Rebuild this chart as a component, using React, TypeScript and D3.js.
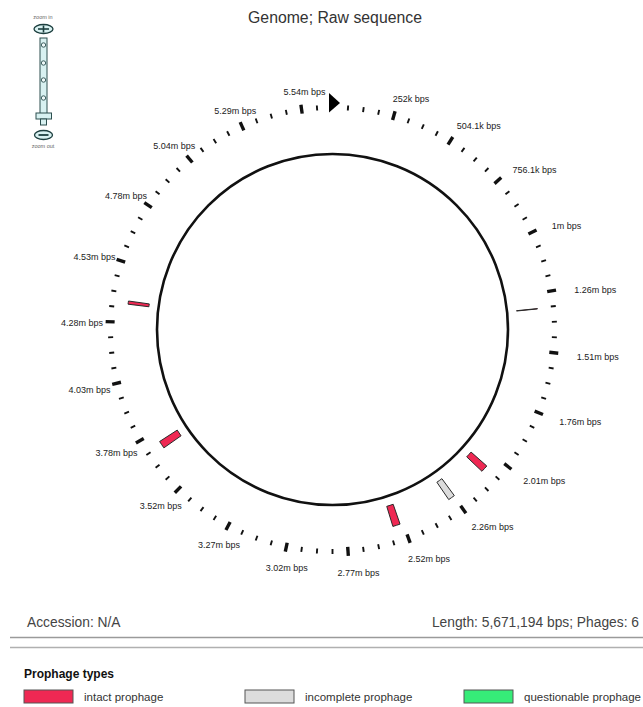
import React from "react";
import * as d3 from "d3";

// ---- data ----
const genomeLength = 5671194;
const minorTickCount = 90; // ticks around the genome (every ~63 kb)
const majorEvery = 4; // every 4th tick is labelled (~252 kb)
const tickLabels = [
  "252k bps", "504.1k bps", "756.1k bps", "1m bps", "1.26m bps", "1.51m bps",
  "1.76m bps", "2.01m bps", "2.26m bps", "2.52m bps", "2.77m bps", "3.02m bps",
  "3.27m bps", "3.52m bps", "3.78m bps", "4.03m bps", "4.28m bps", "4.53m bps",
  "4.78m bps", "5.04m bps", "5.29m bps", "5.54m bps",
];
const prophageStart = [1326000, 2071500, 2264500, 2534000, 3701000, 4364600];
const prophageEnd = [1327500, 2103000, 2294500, 2567000, 3734500, 4378600];
const prophageType = ["intact", "intact", "incomplete", "intact", "intact", "intact"];
const legendKeys = ["intact", "incomplete", "questionable"];
const legendNames = ["intact prophage", "incomplete prophage", "questionable prophage"];
const legendColors = ["#ef2853", "#dcdcdc", "#36ec78"];
const accessionText = "Accession: N/A";
const lengthText = "Length: 5,671,194 bps; Phages: 6";
const titleText = "Genome; Raw sequence";

const W = 643;
const H = 707;
const CX = 332.5;
const CY = 329.5;
const R = 175.5;
const FONT = "'Liberation Sans', Arial, Helvetica, sans-serif";

export default function App() {
  const angle = d3.scaleLinear().domain([0, genomeLength]).range([0, 2 * Math.PI]);
  const color = d3.scaleOrdinal<string, string>().domain(legendKeys).range(legendColors);
  const tickStep = genomeLength / minorTickCount;
  const ticks = d3.range(1, minorTickCount).map((i) => ({
    v: i * tickStep,
    major: i % majorEvery === 0,
    label: i % majorEvery === 0 ? tickLabels[i / majorEvery - 1] : null,
  }));
  const arc = d3.arc<any>();
  const pol = (a: number, r: number): [number, number] => [
    CX + r * Math.sin(a),
    CY - r * Math.cos(a),
  ];

  const labelR = 237;
  const ldx = 8;
  const ldy = 2;

  const tri = [
    [CX - 3.5, CY - 236.5],
    [CX - 3.5, CY - 217],
    [CX + 7.5, CY - 226.5],
  ];

  return (
    <svg
      width={W}
      height={H}
      viewBox={`0 0 ${W} ${H}`}
      style={{ position: "absolute", left: 0, top: 0, background: "#fff" }}
      fontFamily={FONT}
    >
      <rect x={0} y={0} width={W} height={H} fill="#fff" />
      {/* zoom control */}
      <g>
        <text x={43} y={19} fontSize={5.5} fill="#666" textAnchor="middle">zoom in</text>
        <ellipse cx={43.5} cy={29} rx={9.5} ry={4.5} fill="#d8f1f1" stroke="#1d3f3f" strokeWidth={1.3} />
        <line x1={38} x2={49} y1={29} y2={29} stroke="#1d3f3f" strokeWidth={1.6} />
        <line x1={43.5} x2={43.5} y1={25.5} y2={32.5} stroke="#1d3f3f" strokeWidth={1.6} />
        <rect x={40} y={38} width={7} height={77} fill="#d8f1f1" stroke="#2c4f4f" strokeWidth={1} />
        {[45, 63, 80, 98].map((y) => (
          <circle key={y} cx={43.5} cy={y} r={2.2} fill="#eef9f9" stroke="#2c4f4f" strokeWidth={0.9} />
        ))}
        <rect x={36} y={113} width={15.5} height={6} fill="#d8f1f1" stroke="#2c4f4f" strokeWidth={1} />
        <rect x={40.5} y={119} width={6} height={6} fill="#d8f1f1" stroke="#2c4f4f" strokeWidth={1} />
        <ellipse cx={43.5} cy={135} rx={9} ry={4.5} fill="#d8f1f1" stroke="#1d3f3f" strokeWidth={1.3} />
        <line x1={38.5} x2={48.5} y1={135} y2={135} stroke="#1d3f3f" strokeWidth={1.8} />
        <text x={43} y={148} fontSize={5.5} fill="#666" textAnchor="middle">zoom out</text>
      </g>

      {/* title */}
      <text x={335} y={23} fontSize={15.8} fill="#333" textAnchor="middle">
        {titleText}
      </text>

      {/* backbone */}
      <circle cx={CX} cy={CY} r={R} fill="none" stroke="#111" strokeWidth={2.6} />

      {/* prophages */}
      {prophageStart.map((s, i) => (
        <path
          key={i}
          transform={`translate(${CX},${CY})`}
          d={arc({
            innerRadius: 185,
            outerRadius: 206,
            startAngle: angle(s),
            endAngle: angle(prophageEnd[i]),
          }) as string}
          fill={color(prophageType[i])}
          stroke="#2a2a2a"
          strokeWidth={1}
        />
      ))}

      {/* ticks */}
      {ticks.map((t, i) => {
        const a = angle(t.v);
        const [x1, y1] = pol(a, t.major ? 218 : 219.5);
        const [x2, y2] = pol(a, t.major ? 227 : 224.5);
        return (
          <line
            key={i}
            x1={x1}
            y1={y1}
            x2={x2}
            y2={y2}
            stroke="#111"
            strokeWidth={t.major ? 3.4 : 1.9}
          />
        );
      })}

      {/* start marker */}
      <polygon points={tri.map((p) => p.join(",")).join(" ")} fill="#000" />

      {/* tick labels */}
      {ticks
        .filter((t) => t.label)
        .map((t, i) => {
          const a = angle(t.v);
          const s = Math.sin(a);
          const c = Math.cos(a);
          const w = (t.label as string).length * 4.8;
          const h = 10;
          const x = CX + ldx + labelR * s + (w / 2) * s;
          const y = CY + ldy - labelR * c - (h / 2) * c;
          return (
            <text
              key={i}
              x={x}
              y={y}
              dy="0.35em"
              fontSize={9}
              fill="#222"
              textAnchor="middle"
            >
              {t.label}
            </text>
          );
        })}

      {/* footer */}
      <text x={27} y={627} fontSize={13.8} fill="#444">
        {accessionText}
      </text>
      <text x={639} y={627} fontSize={13.8} fill="#444" textAnchor="end">
        {lengthText}
      </text>
      <line x1={10} x2={W} y1={637.5} y2={637.5} stroke="#9a9a9a" strokeWidth={1.6} />
      <line x1={10} x2={W} y1={647.5} y2={647.5} stroke="#b0b0b0" strokeWidth={1.3} />

      {/* legend */}
      <text x={24} y={678} fontSize={12} fontWeight="bold" fill="#111">
        Prophage types
      </text>
      {legendKeys.map((k, i) => {
        const x0 = [24, 245, 464][i];
        return (
          <g key={k}>
            <rect x={x0} y={690} width={49} height={13} fill={color(k)} stroke="#555" strokeWidth={1} />
            <text x={x0 + 60} y={701} fontSize={11.5} fill="#333">
              {legendNames[i]}
            </text>
          </g>
        );
      })}
    </svg>
  );
}
